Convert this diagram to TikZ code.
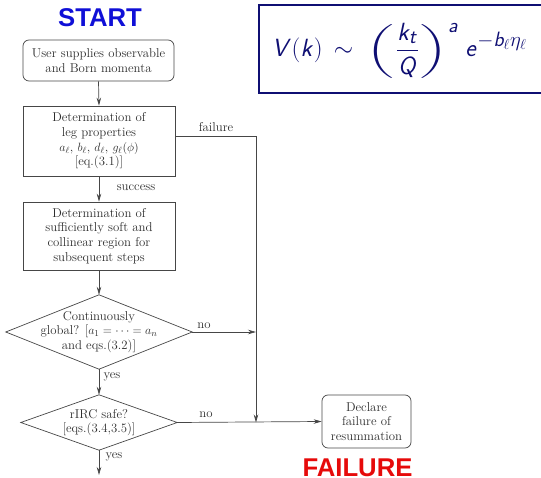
\documentclass[tikz,border=0pt]{standalone}
\usepackage{amsmath}
\usepackage{graphicx}
\usepackage{fontspec}
\usetikzlibrary{arrows.meta}
\newfontfamily\headfont{Liberation Sans}
\definecolor{startblue}{RGB}{15,15,215}
\definecolor{failred}{RGB}{230,10,10}
\definecolor{navyblue}{RGB}{15,15,115}
\definecolor{ink}{RGB}{45,45,45}
\definecolor{wire}{RGB}{70,70,70}
% a sans-serif math version for the scaling law
\DeclareMathVersion{sanslaw}
\SetSymbolFont{operators}{sanslaw}{OT1}{cmss}{m}{n}
\SetSymbolFont{letters}{sanslaw}{OML}{cmm}{m}{it}
\SetSymbolFont{symbols}{sanslaw}{OMS}{cmsy}{m}{n}
\SetSymbolFont{largesymbols}{sanslaw}{OMX}{cmex}{m}{n}
\DeclareMathAlphabet{\mathsfit}{OT1}{cmss}{m}{sl}
% wide, slightly squat big parentheses around the fraction
\newcommand{\lawparen}[1]{\mathopen{\hbox{\scalebox{1.5}[0.9]{%
  $\left#1\vphantom{\dfrac{k_t}{Q}}\right.$}}}}
\newcommand{\lawcparen}[1]{\mathclose{\hbox{\scalebox{1.5}[0.9]{%
  $\left.\vphantom{\dfrac{k_t}{Q}}\right#1$}}}}
% the math version switch is kept inside its own box group
\newcommand{\scalinglaw}{\hbox{\mathversion{sanslaw}%
  $\displaystyle \mathsfit{V}(\mathsfit{k})\,\sim\;
   \lawparen(\frac{\mathsfit{k}_{\mathsfit{t}}}{\mathsfit{Q}}\lawcparen)^{\mathsfit{a}}
   \;\mathsfit{e}^{-\mathsfit{b}_\ell\eta_\ell}$}}
\tikzset{
  flow/.style={font=\fontsize{12.8}{14.6}\selectfont, text=ink, align=center},
  stepbox/.style={flow, draw=wire, line width=0.7pt, inner sep=0pt},
  roundbox/.style={stepbox, rounded corners=6pt},
  decision/.style={flow, inner sep=0pt},
  edgelabel/.style={font=\fontsize{12.8}{14.6}\selectfont, text=ink, inner sep=0pt},
  link/.style={draw=wire, line width=0.7pt},
  arrowlink/.style={link, -{Stealth[length=8pt,width=4.5pt]}},
  banner/.style={font=\headfont\bfseries\fontsize{25.7}{28}\selectfont, inner sep=0pt,
    text depth=0pt},
  lawstyle/.style={text=navyblue, inner sep=0pt, font=\fontsize{31.5}{36}\selectfont}
}
\begin{document}
\begin{tikzpicture}[x=1pt, y=-1pt]
  \useasboundingbox (0,0) rectangle (541,478);

  % headline labels
  \node[banner, text=startblue, anchor=base] (start) at (100,27) {START};
  \node[banner, text=failred, anchor=base] (fail) at (357.5,476) {FAILURE};

  % formula in a frame that runs on past the right edge
  \node[lawstyle, anchor=base west] (law) at (272,57) {\scalinglaw};
  \coordinate (frametl) at (259,5);
  \coordinate (framebl) at (259,93);
  \coordinate (frametr) at (560,5);
  \coordinate (framebr) at (560,93);
  \begin{scope}
    \clip (0,0) rectangle (541,478);
    \draw[navyblue, line width=2pt] (frametr) -- (frametl) -- (framebl) -- (framebr);
  \end{scope}

  % steps
  \node[roundbox, minimum width=151pt, minimum height=41pt] (user) at (98.5,60.5)
    {User supplies observable\\and Born momenta};
  \node[stepbox, minimum width=152pt, minimum height=70pt] (legs) at (99,141)
    {Determination of\\leg properties\\$a_\ell$, $b_\ell$, $d_\ell$, $g_\ell(\phi)$\\{}[eq.(3.1)]};
  \node[stepbox, minimum width=152pt, minimum height=68pt] (region) at (99,236)
    {Determination of\\sufficiently soft and\\collinear region for\\subsequent steps};

  % decisions
  \node[decision, minimum width=186pt, minimum height=74pt] (glob) at (99,332)
    {Continuously\\global? [$a_1=\cdots=a_n$\\and eqs.(3.2)]};
  \draw[link] (glob.north) -- (glob.east) -- (glob.south) -- (glob.west) -- cycle;
  \node[decision, minimum width=156pt, minimum height=55pt] (rirc) at (99,422.5)
    {rIRC safe?\\{}[eqs.(3.4,3.5)]};
  \draw[link] (rirc.north) -- (rirc.east) -- (rirc.south) -- (rirc.west) -- cycle;

  % outcome
  \node[roundbox, minimum width=89pt, minimum height=53pt] (declare) at (366.5,421.5)
    {Declare\\failure of\\resummation};

  % junction points of the failure path
  \coordinate (failtop) at (256,136);
  \coordinate (join) at (256,422.5);
  \coordinate (next) at (99,475);

  % main flow
  \draw[arrowlink] (user.south) -- (legs.north);
  \draw[arrowlink] (legs.south) -- (region.north);
  \draw[arrowlink] (region.south) -- (glob.north);
  \draw[arrowlink] (glob.south) -- (rirc.north);
  \draw[arrowlink] (rirc.south) -- (next);

  % failure branches
  \draw[arrowlink] (legs.east |- failtop) -- (failtop) -- (join);
  \draw[arrowlink] (glob.east) -- (glob.east -| failtop);
  \draw[arrowlink] (rirc.east) -- (declare.west);

  % branch labels
  \node[edgelabel] (lfail) at (216,127) {failure};
  \node[edgelabel] (lsucc) at (136,188) {success};
  \node[edgelabel] (lno1) at (204,326) {no};
  \node[edgelabel] (lyes1) at (112,377) {yes};
  \node[edgelabel] (lno2) at (206,415) {no};
  \node[edgelabel] (lyes2) at (114,457) {yes};
\end{tikzpicture}
\end{document}
